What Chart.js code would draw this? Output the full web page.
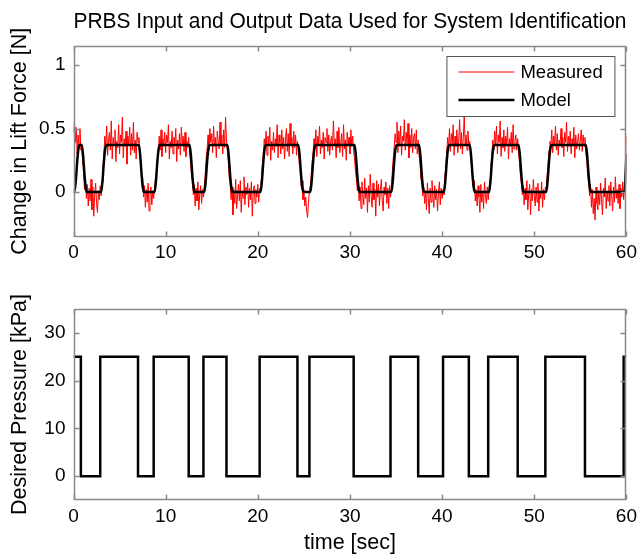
<!DOCTYPE html>
<html>
<head>
<meta charset="utf-8">
<title>PRBS Input and Output Data</title>
<script src="https://cdn.jsdelivr.net/npm/chart.js@4.4.1/dist/chart.umd.min.js"></script>
<style>
  html, body { margin: 0; padding: 0; background: #fff; }
  #wrap { position: relative; width: 642px; height: 557px; }
  canvas { position: absolute; left: 0; }
  #forceChart { top: 0; }
  #pressureChart { top: 275px; }
</style>
</head>
<body>
<div id="wrap">
  <canvas id="forceChart" width="642" height="275"></canvas>
  <canvas id="pressureChart" width="642" height="282"></canvas>
</div>
<script>
// measured lift force [N], one sample every 0.1 s from t = 0 to t = 60
const sampleStep = 0.1;
const measuredForce = [
  0.47, 0.56, 0.39, 0.51, 0.30, 0.45, 0.35, 0.50, 0.33, 0.36,
  0.24, 0.15, 0.02, 0.08, -0.05, 0.06, -0.11, 0.03, -0.07, 0.10,
  -0.14, 0.04, -0.19, -0.02, 0.07, -0.09, -0.16, 0.01, -0.06, 0.05,
  -0.03, 0.08, 0.19, 0.31, 0.44, 0.36, 0.52, 0.29, 0.41, 0.47,
  0.33, 0.56, 0.26, 0.43, 0.38, 0.49, 0.24, 0.40, 0.35, 0.53,
  0.30, 0.45, 0.39, 0.59, 0.27, 0.42, 0.36, 0.48, 0.22, 0.44,
  0.37, 0.51, 0.29, 0.46, 0.33, 0.55, 0.31, 0.41, 0.26, 0.47,
  0.39, 0.43, 0.30, 0.22, 0.09, 0.12, -0.04, 0.05, -0.12, 0.02,
  -0.08, 0.07, -0.15, -0.03, 0.04, -0.10, 0.01, -0.05, 0.03, 0.11,
  0.16, 0.27, 0.30, 0.44, 0.33, 0.49, 0.28, 0.42, 0.36, 0.47,
  0.31, 0.45, 0.39, 0.53, 0.26, 0.40, 0.35, 0.48, 0.30, 0.43,
  0.38, 0.50, 0.24, 0.41, 0.34, 0.46, 0.29, 0.51, 0.37, 0.44,
  0.32, 0.47, 0.28, 0.40, 0.35, 0.43, 0.31, 0.24, 0.14, 0.09,
  -0.02, 0.06, -0.11, 0.03, -0.07, 0.08, -0.14, -0.01, 0.05, -0.09,
  0.02, -0.04, 0.06, 0.15, 0.27, 0.34, 0.45, 0.33, 0.50, 0.39,
  0.46, 0.31, 0.52, 0.36, 0.43, 0.27, 0.48, 0.40, 0.34, 0.55,
  0.38, 0.45, 0.30, 0.49, 0.35, 0.59, 0.41, 0.32, 0.24, 0.11,
  0.07, -0.06, 0.04, -0.18, 0.02, -0.09, 0.10, -0.13, -0.03, 0.06,
  -0.07, 0.09, -0.16, 0.01, -0.05, 0.12, -0.10, 0.04, -0.02, 0.07,
  -0.12, 0.03, -0.06, 0.08, -0.19, -0.01, 0.05, -0.09, 0.02, -0.04,
  0.06, -0.08, 0.03, 0.01, 0.12, 0.21, 0.30, 0.42, 0.35, 0.48,
  0.29, 0.44, 0.37, 0.51, 0.25, 0.40, 0.33, 0.47, 0.31, 0.42,
  0.36, 0.53, 0.27, 0.45, 0.39, 0.30, 0.49, 0.34, 0.43, 0.26,
  0.41, 0.50, 0.32, 0.46, 0.28, 0.54, 0.37, 0.43, 0.30, 0.48,
  0.35, 0.45, 0.29, 0.40, 0.33, 0.22, 0.17, 0.05, 0.09, -0.06,
  0.02, -0.11, -0.04, -0.15, -0.20, -0.08, 0.01, 0.05, 0.14, 0.24,
  0.31, 0.42, 0.36, 0.49, 0.28, 0.44, 0.38, 0.52, 0.30, 0.41,
  0.35, 0.47, 0.26, 0.43, 0.39, 0.50, 0.32, 0.45, 0.29, 0.40,
  0.44, 0.33, 0.56, 0.37, 0.42, 0.27, 0.48, 0.35, 0.51, 0.31,
  0.39, 0.46, 0.28, 0.53, 0.34, 0.41, 0.25, 0.47, 0.37, 0.43,
  0.30, 0.49, 0.36, 0.44, 0.32, 0.26, 0.16, 0.10, 0.01, 0.06,
  -0.07, 0.04, -0.13, 0.08, -0.02, -0.10, 0.11, -0.05, 0.03, -0.16,
  0.05, -0.08, 0.14, -0.03, -0.12, 0.07, -0.06, 0.02, -0.19, 0.09,
  -0.04, 0.06, -0.11, 0.01, 0.10, -0.07, -0.15, 0.04, -0.02, 0.08,
  -0.09, 0.03, -0.13, 0.05, -0.04, 0.06, 0.16, 0.27, 0.35, 0.46,
  0.39, 0.55, 0.31, 0.48, 0.36, 0.52, 0.29, 0.44, 0.40, 0.57,
  0.33, 0.47, 0.38, 0.54, 0.27, 0.45, 0.35, 0.50, 0.31, 0.43,
  0.46, 0.34, 0.49, 0.30, 0.41, 0.29, 0.22, 0.11, 0.06, -0.03,
  0.04, -0.09, 0.01, -0.14, 0.07, -0.05, -0.17, 0.03, -0.08, 0.09,
  -0.03, -0.12, 0.05, -0.06, 0.02, -0.15, -0.01, 0.08, -0.10, 0.03,
  -0.05, 0.02, -0.02, 0.13, 0.20, 0.31, 0.43, 0.35, 0.50, 0.32,
  0.46, 0.38, 0.53, 0.29, 0.44, 0.36, 0.49, 0.31, 0.41, 0.57,
  0.34, 0.47, 0.30, 0.43, 0.61, 0.37, 0.45, 0.33, 0.48, 0.36,
  0.40, 0.28, 0.21, 0.12, 0.04, 0.09, -0.07, 0.02, -0.11, 0.05,
  -0.04, -0.16, 0.06, -0.08, 0.01, -0.13, 0.08, -0.02, -0.09, 0.04,
  -0.06, 0.03, 0.10, 0.19, 0.29, 0.41, 0.33, 0.48, 0.37, 0.52,
  0.30, 0.45, 0.39, 0.56, 0.28, 0.43, 0.35, 0.49, 0.32, 0.44,
  0.38, 0.51, 0.26, 0.42, 0.36, 0.47, 0.31, 0.53, 0.34, 0.40,
  0.45, 0.33, 0.42, 0.30, 0.23, 0.13, 0.08, -0.02, 0.05, -0.10,
  0.03, -0.06, 0.09, -0.14, -0.01, 0.06, -0.18, 0.02, -0.07, 0.10,
  -0.03, -0.11, 0.04, -0.08, 0.07, -0.15, 0.01, -0.05, 0.08, -0.12,
  0.02, -0.06, 0.04, 0.03, 0.14, 0.22, 0.33, 0.40, 0.36, 0.49,
  0.31, 0.44, 0.38, 0.52, 0.33, 0.46, 0.29, 0.41, 0.37, 0.50,
  0.35, 0.43, 0.28, 0.47, 0.39, 0.55, 0.32, 0.44, 0.36, 0.48,
  0.30, 0.42, 0.37, 0.51, 0.27, 0.45, 0.34, 0.40, 0.46, 0.33,
  0.41, 0.49, 0.32, 0.45, 0.36, 0.43, 0.30, 0.25, 0.12, 0.08,
  -0.03, 0.06, -0.12, 0.02, -0.17, -0.05, -0.22, 0.04, -0.09, -0.14,
  0.01, -0.10, 0.07, -0.06, -0.18, 0.03, -0.04, 0.11, -0.13, 0.00,
  -0.07, 0.05, -0.11, 0.08, -0.03, -0.15, 0.04, -0.08, 0.12, -0.05,
  0.02, -0.09, 0.06, -0.13, 0.03, -0.04, 0.08, -0.06, 0.05, 0.19,
  0.44
];

// identified model response [N]
const modelTime = [
  0, 0.1, 0.25, 0.4, 0.52, 0.65,
  0.9, 1.05, 1.2, 1.32, 1.45,
  3.0, 3.15, 3.3, 3.42, 3.55,
  7.1, 7.25, 7.4, 7.52, 7.65,
  8.8, 8.95, 9.1, 9.22, 9.35,
  12.6, 12.75, 12.9, 13.02, 13.15,
  14.2, 14.35, 14.5, 14.62, 14.75,
  16.7, 16.85, 17.0, 17.12, 17.25,
  20.3, 20.45, 20.6, 20.72, 20.85,
  24.4, 24.55, 24.7, 24.82, 24.95,
  25.7, 25.85, 26.0, 26.12, 26.25,
  30.5, 30.65, 30.8, 30.92, 31.05,
  34.5, 34.65, 34.8, 34.92, 35.05,
  37.5, 37.65, 37.8, 37.92, 38.05,
  40.2, 40.35, 40.5, 40.62, 40.75,
  43.0, 43.15, 43.3, 43.42, 43.55,
  45.1, 45.25, 45.4, 45.52, 45.65,
  48.3, 48.45, 48.6, 48.72, 48.85,
  51.3, 51.45, 51.6, 51.72, 51.85,
  55.6, 55.75, 55.9, 56.02, 56.15,
  59.8, 59.9, 60
];
const modelForce = [
  0, 0, 0.09, 0.24, 0.33, 0.37,
  0.37, 0.28, 0.13, 0.04, 0,
  0, 0.09, 0.24, 0.33, 0.37,
  0.37, 0.28, 0.13, 0.04, 0,
  0, 0.09, 0.24, 0.33, 0.37,
  0.37, 0.28, 0.13, 0.04, 0,
  0, 0.09, 0.24, 0.33, 0.37,
  0.37, 0.28, 0.13, 0.04, 0,
  0, 0.09, 0.24, 0.33, 0.37,
  0.37, 0.28, 0.13, 0.04, 0,
  0, 0.09, 0.24, 0.33, 0.37,
  0.37, 0.28, 0.13, 0.04, 0,
  0, 0.09, 0.24, 0.33, 0.37,
  0.37, 0.28, 0.13, 0.04, 0,
  0, 0.09, 0.24, 0.33, 0.37,
  0.37, 0.28, 0.13, 0.04, 0,
  0, 0.09, 0.24, 0.33, 0.37,
  0.37, 0.28, 0.13, 0.04, 0,
  0, 0.09, 0.24, 0.33, 0.37,
  0.37, 0.28, 0.13, 0.04, 0,
  0, 0.12, 0.3
];

// PRBS input: switching instants [sec] and the pressure held from there [kPa]
const inputTime = [0, 0.8, 2.9, 7.0, 8.7, 12.5, 14.1, 16.6, 20.2, 24.3, 25.6,
  30.4, 34.4, 37.4, 40.1, 42.9, 45.0, 48.2, 51.2, 55.5, 59.7, 60];
const inputPressure = [25, 0, 25, 0, 25, 0, 25, 0, 25, 0, 25,
  0, 25, 0, 25, 0, 25, 0, 25, 0, 25, 25];

const timeTicks = [0, 10, 20, 30, 40, 50, 60];
const forceTicks = [0, 0.5, 1];
const pressureTicks = [0, 10, 20, 30];

const FONT = "'Liberation Sans', Arial, Helvetica, sans-serif";
const SIZE = {tick: 19, label: 21.5, legend: 18.5};

const boxPlugin = {
  id: 'boxPlugin',
  afterDraw(chart) {
    const {ctx, chartArea: a, scales} = chart;
    const L = Math.round(a.left) + 0.5, R = Math.round(a.right) - 0.5;
    const T = Math.round(a.top) + 0.5, B = Math.round(a.bottom) - 0.5;
    ctx.save();
    ctx.strokeStyle = '#8a8a8a';
    ctx.lineWidth = 1.5;
    ctx.strokeRect(L, T, R - L, B - T);
    ctx.beginPath();
    scales.x.ticks.forEach(t => {
      const px = Math.round(scales.x.getPixelForValue(t.value)) + 0.5;
      ctx.moveTo(px, B); ctx.lineTo(px, B - 5);
      ctx.moveTo(px, T); ctx.lineTo(px, T + 5);
    });
    scales.y.ticks.forEach(t => {
      const py = Math.round(scales.y.getPixelForValue(t.value)) + 0.5;
      ctx.moveTo(L, py); ctx.lineTo(L + 5, py);
      ctx.moveTo(R, py); ctx.lineTo(R - 5, py);
    });
    ctx.stroke();
    ctx.restore();
  }
};

const legendPlugin = {
  id: 'legendPlugin',
  afterDraw(chart) {
    const {ctx, chartArea: a} = chart;
    const w = 168, h = 60;
    const x0 = a.right - 180, y0 = a.top + 10;
    ctx.save();
    ctx.fillStyle = '#fff';
    ctx.fillRect(x0, y0, w, h);
    ctx.strokeStyle = '#555';
    ctx.lineWidth = 1;
    ctx.strokeRect(x0 + 0.5, y0 + 0.5, w, h);
    const items = ['Measured', 'Model'].map(l => chart.data.datasets.find(d => d.label === l));
    items.forEach((ds, i) => {
      const y = y0 + 16 + i * 28;
      ctx.strokeStyle = ds.borderColor;
      ctx.lineWidth = ds.borderWidth;
      ctx.beginPath();
      ctx.moveTo(x0 + 12, y);
      ctx.lineTo(x0 + 68, y);
      ctx.stroke();
      ctx.fillStyle = '#000';
      ctx.font = SIZE.legend + 'px ' + FONT;
      ctx.textBaseline = 'middle';
      ctx.fillText(ds.label, x0 + 74, y + 1);
    });
    ctx.restore();
  }
};

function fixedTicks(values) {
  return scale => { scale.ticks = values.map(v => ({value: v})); };
}

function xScale(height, title) {
  return {
    type: 'linear', min: 0, max: 60,
    afterBuildTicks: fixedTicks(timeTicks),
    afterFit: s => { s.height = height; },
    grid: {display: false, drawTicks: false},
    border: {display: false},
    ticks: {color: '#000', padding: 5, maxRotation: 0, callback: v => String(v),
      font: {family: FONT, size: SIZE.tick}},
    title: title ? {display: true, text: title, color: '#000',
      padding: {top: 0, bottom: 1}, font: {family: FONT, size: SIZE.label}} : {display: false}
  };
}

function yScale(min, max, ticks, title) {
  return {
    type: 'linear', min: min, max: max,
    afterBuildTicks: fixedTicks(ticks),
    afterFit: s => { s.width = 73.5; },
    grid: {display: false, drawTicks: false},
    border: {display: false},
    ticks: {color: '#000', padding: 8, callback: v => String(v),
      font: {family: FONT, size: SIZE.tick}},
    title: {display: true, text: title, color: '#000',
      padding: {top: 7, bottom: 0}, font: {family: FONT, size: SIZE.label}}
  };
}

const measuredPoints = measuredForce.map((v, i) => ({x: +(i * sampleStep).toFixed(1), y: v}));
const modelPoints = modelTime.map((t, i) => ({x: t, y: modelForce[i]}));
const inputPoints = inputTime.map((t, i) => ({x: t, y: inputPressure[i]}));

new Chart(document.getElementById('forceChart'), {
  type: 'line',
  data: {
    datasets: [
      {label: 'Model', data: modelPoints, borderColor: '#000', borderWidth: 2.5,
        pointRadius: 0, cubicInterpolationMode: 'monotone'},
      {label: 'Measured', data: measuredPoints, borderColor: '#ff0000', borderWidth: 1,
        pointRadius: 0, tension: 0}
    ]
  },
  options: {
    responsive: false,
    animation: false,
    layout: {padding: {left: 0, right: 13.5, top: 0, bottom: 0}},
    plugins: {
      legend: {display: false},
      tooltip: {enabled: false},
      title: {display: true, text: 'PRBS Input and Output Data Used for System Identification',
        color: '#000', fullSize: false,
        padding: {top: 9, bottom: 46 - 9 - SIZE.label * 1.2},
        font: {family: FONT, size: SIZE.label, weight: 'normal'}}
    },
    scales: {
      x: xScale(38.5, null),
      y: yScale(-0.35, 1.15, forceTicks, 'Change in Lift Force [N]')
    }
  },
  plugins: [boxPlugin, legendPlugin]
});

new Chart(document.getElementById('pressureChart'), {
  type: 'line',
  data: {
    datasets: [
      {label: 'Desired Pressure', data: inputPoints, borderColor: '#000', borderWidth: 2.5,
        pointRadius: 0, stepped: true}
    ]
  },
  options: {
    responsive: false,
    animation: false,
    layout: {padding: {left: 0, right: 13.5, top: 34, bottom: 0}},
    plugins: {
      legend: {display: false},
      tooltip: {enabled: false}
    },
    scales: {
      x: xScale(57, 'time [sec]'),
      y: yScale(-5, 35, pressureTicks, 'Desired Pressure [kPa]')
    }
  },
  plugins: [boxPlugin]
});
</script>
</body>
</html>
